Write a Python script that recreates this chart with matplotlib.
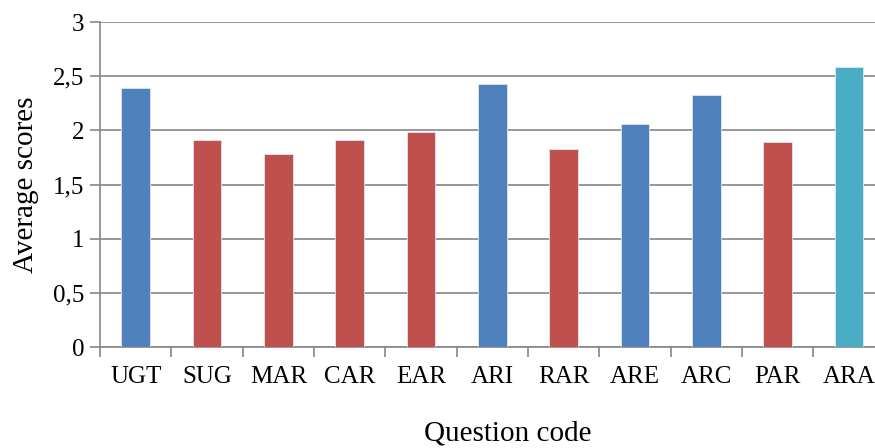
import matplotlib.pyplot as plt
import numpy as np
from matplotlib.ticker import FuncFormatter

# question codes and average scores
codes = ["UGT", "SUG", "MAR", "CAR", "EAR", "ARI", "RAR", "ARE", "ARC", "PAR", "ARA"]
scores = [2.39, 1.91, 1.78, 1.91, 1.98, 2.43, 1.83, 2.06, 2.33, 1.89, 2.58]
groups = ["blue", "red", "red", "red", "red", "blue", "red", "blue", "blue", "red", "teal"]

palette = {"blue": "#4F81BD", "red": "#C0504D", "teal": "#4BACC6"}
grey = "#868686"

plt.rcParams["font.family"] = ["Liberation Serif", "DejaVu Serif"]

fig = plt.figure(figsize=(8.75, 4.48), dpi=100)
ax = fig.add_axes([100 / 875, 101 / 448, 784.6 / 875, 325 / 448])

x = np.arange(len(codes))
ax.bar(x, scores, width=0.4, color=[palette[g] for g in groups],
       edgecolor="#dfe6f0", linewidth=0.6, zorder=3)

ax.set_xlim(-0.5, len(codes) - 0.5)
ax.set_ylim(0, 3)
ax.set_yticks(np.arange(0, 3.01, 0.5))
ax.yaxis.set_major_formatter(FuncFormatter(lambda v, p: ("%g" % v).replace(".", ",")))
ax.grid(axis="y", color=grey, linewidth=1.2, zorder=0)

# category labels centred, tick marks between categories
ax.set_xticks(x)
ax.set_xticklabels(codes)
ax.set_xticks(np.arange(-0.5, len(codes)), minor=True)
ax.tick_params(axis="x", which="major", length=0, pad=14, labelsize=18)
ax.tick_params(axis="x", which="minor", length=7, width=1.2, color=grey)
ax.tick_params(axis="y", length=7, width=1.2, color=grey, pad=4, labelsize=18)

for side in ["top", "right"]:
    ax.spines[side].set_visible(False)
for side in ["left", "bottom"]:
    ax.spines[side].set_color(grey)
    ax.spines[side].set_linewidth(1.2)

ax.set_ylabel("Average scores", fontsize=21, labelpad=10)
fig.text(508 / 875, 1 - 433 / 448, "Question code", fontsize=21, ha="center", va="center")

fig.savefig("out.png", dpi=100)
